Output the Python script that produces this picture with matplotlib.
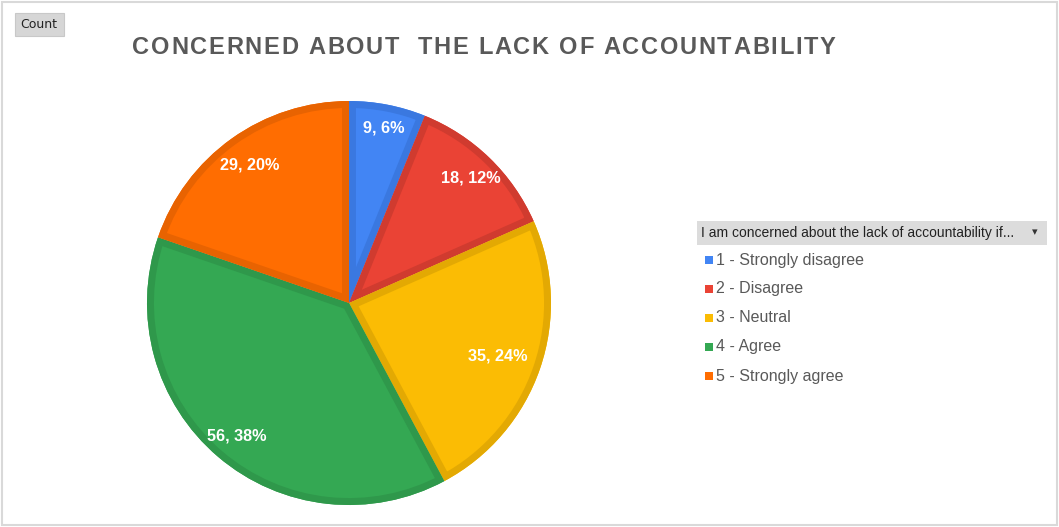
import numpy as np
import matplotlib
matplotlib.use("Agg")
from matplotlib import pyplot as plt
from matplotlib.patches import Rectangle, Wedge
from matplotlib.font_manager import FontProperties

categories = ["1 - Strongly disagree", "2 - Disagree", "3 - Neutral", "4 - Agree", "5 - Strongly agree"]
counts = [9, 18, 35, 56, 29]
colors = ["#4285F4", "#EA4335", "#FBBC04", "#34A853", "#FF6D01"]
edge_colors = ["#3A78E0", "#D03B2F", "#E3A903", "#2F984B", "#E86301"]
title = "CONCERNED ABOUT  THE LACK OF ACCOUNTABILITY"
legend_title = "I am concerned about the lack of accountability if..."
label_dist = [0.89, 0.87, 0.78, 0.855, 0.85]  # where excel put each data label

W, H = 1059, 527
fig = plt.figure(figsize=(W / 100, H / 100), dpi=100)
renderer = fig.canvas.get_renderer()

# background axes in pixel coords for the frame, buttons and legend
bg = fig.add_axes([0, 0, 1, 1])
bg.set_xlim(0, W)
bg.set_ylim(H, 0)
bg.axis("off")
bg.add_patch(Rectangle((1.5, 1.5), W - 3.5, H - 3.5, fill=False, ec="#d9d9d9", lw=1.5))

# "Count" field button
bg.add_patch(Rectangle((15, 13), 49, 23, fc="#d6d6d6", ec="#c8c8c8", lw=0.8))
bg.text(39, 25, "Count", fontsize=9, color="#222222", ha="center", va="center", family="DejaVu Sans")

# title with letter spacing, one character at a time
tprop = FontProperties(family="Liberation Sans", weight="bold", size=17)
track = 1.7
widths = [renderer.get_text_width_height_descent(ch, tprop, ismath=False)[0] for ch in title]
total_w = sum(widths) + track * (len(title) - 1)
x = 484 - total_w / 2
for ch, wd in zip(title, widths):
    bg.text(x, 47, ch, fontproperties=tprop, color="#595959", ha="left", va="center")
    x += wd + track

# legend header
bg.add_patch(Rectangle((697, 221), 350, 24, fc="#dcdcdc", ec="none"))
bg.text(701, 233, legend_title, fontsize=10, color="#222222", ha="left", va="center", family="Liberation Sans")
bg.text(1035, 232, "\u25be", fontsize=8, color="#333333", ha="center", va="center", family="DejaVu Sans")

for i, (lab, c) in enumerate(zip(categories, colors)):
    y = 260 + i * 29
    bg.add_patch(Rectangle((705, y - 4), 8, 8, fc=c, ec="none"))
    bg.text(716, y, lab, fontsize=11.5, color="#595959", ha="left", va="center", family="Liberation Sans")

# pie
cx, cy, R = 349, 303, 202
ax = fig.add_axes([(cx - R) / W, (H - cy - R) / H, 2 * R / W, 2 * R / H])
total = sum(counts)
wedges, texts, autotexts = ax.pie(
    counts, colors=colors, startangle=90, counterclock=False, radius=1,
    autopct=lambda p: f"{round(p * total / 100)}, {p:.0f}%", pctdistance=0.85,
    textprops=dict(color="white", fontsize=11.7, fontweight="bold", family="Liberation Sans"))
for w, ec, t, d in zip(wedges, edge_colors, autotexts, label_dist):
    band = Wedge(w.center, w.r, w.theta1, w.theta2, fill=False, ec=ec, lw=10)
    ax.add_patch(band)
    band.set_clip_path(w)
    mid = np.deg2rad((w.theta1 + w.theta2) / 2)
    t.set_position((d * np.cos(mid), d * np.sin(mid) - 0.008))
    t.set_zorder(5)
ax.set_xlim(-1, 1)
ax.set_ylim(-1, 1)
ax.axis("off")

fig.savefig("out.png", dpi=100)
